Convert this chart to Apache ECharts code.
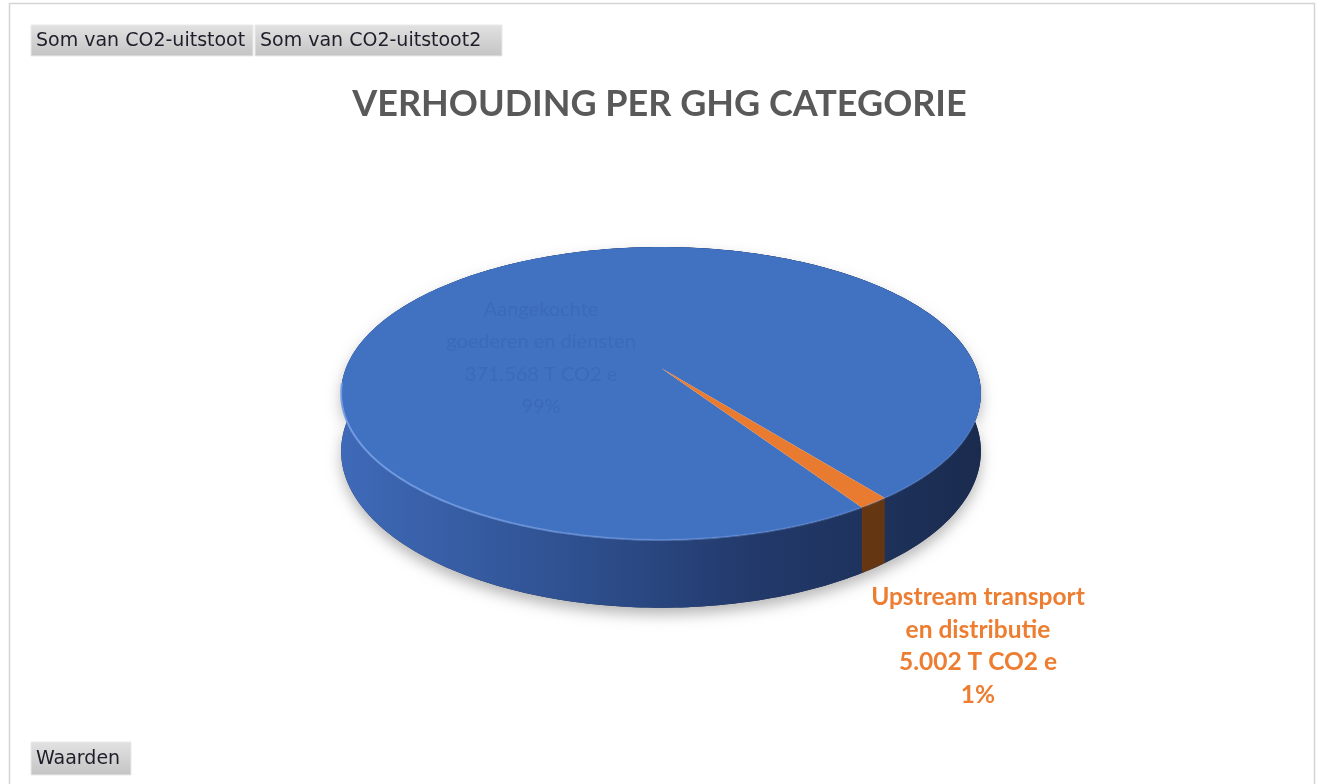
<!DOCTYPE html>
<html lang="nl">
<head>
<meta charset="utf-8">
<title>Verhouding per GHG categorie</title>
<script src="https://cdn.jsdelivr.net/npm/echarts@6/dist/echarts.min.js"></script>
<style>
  html, body { margin: 0; padding: 0; background: #fff; }
  #chart { width: 1319px; height: 784px; }
</style>
</head>
<body>
<div id="chart"></div>
<script>
// categorieën (met regelafbreking zoals in Excel) en waarden in T CO2 e
const categories = ['Aangekochte\ngoederen en diensten', 'Upstream transport\nen distributie'];
const co2Values = [371568, 5002];
const fieldButtons = ['Som van CO2-uitstoot', 'Som van CO2-uitstoot2'];
const valuesButton = 'Waarden';

// stijl per segment
const sliceColors = ['#4171c1', '#e97b30'];
const labelColors = ['#3c6ab9', '#ed7d31'];
const labelWeights = ['normal', 'bold'];
const labelSizes = [20, 24.5];
const labelAnchors = [[541, 358], [978, 646]];
const wallStops = [
  [{ offset: 0, color: '#3f6ab8' }, { offset: 0.35, color: '#2f5191' }, { offset: 0.65, color: '#22396a' }, { offset: 1, color: '#1a2b4e' }],
  [{ offset: 0, color: '#8a4a18' }, { offset: 1, color: '#5e3211' }]
];

// 3D-taart geometrie (eenvoudige perspectief-projectie)
const CX = 661, CY = 368;   // middelpunt van het bovenvlak
const A = 315, B = 142;     // halve assen
const K = 0.174;            // perspectief
const H = 56;               // dikte
const FIRST_ANGLE = 147;    // hoek van eerste segment (graden, met de klok mee vanaf 12 uur)

const total = co2Values.reduce((a, b) => a + b, 0);
const starts = [];
const ends = [];
let acc = 0;
co2Values.forEach(v => {
  starts.push(FIRST_ANGLE + acc / total * 360);
  acc += v;
  ends.push(FIRST_ANGLE + acc / total * 360);
});

const fmt = v => String(v).replace(/\B(?=(\d{3})+(?!\d))/g, '.');

// punt op de schijf: t in graden, r 0..1, dropped = onderkant
const proj = (t, r, dropped) => {
  const rad = t * Math.PI / 180;
  const X = r * Math.sin(rad);
  const Z = -r * Math.cos(rad);
  const w = 1 - K * Z;
  return [CX + A * X / w, CY + (B * Z + (dropped ? H : 0)) / w];
};

const arc = (s, e, dropped) => {
  const pts = [];
  const n = Math.max(2, Math.ceil(e - s));
  for (let j = 0; j <= n; j++) pts.push(proj(s + (e - s) * j / n, 1, dropped));
  return pts;
};

// stukken van de rand die aan de voorkant liggen (voor de lichte rand)
const frontSegments = (s, e) => {
  const segs = [];
  let cur = [];
  for (let t = s; t <= e + 1e-6; t += 1) {
    const m = ((t % 360) + 360) % 360;
    if (m > 95 && m < 265) {
      cur.push(proj(t, 1, false));
    } else if (cur.length) {
      segs.push(cur);
      cur = [];
    }
  }
  if (cur.length) segs.push(cur);
  return segs.filter(sg => sg.length > 1);
};

const renderItem = (params, api) => {
  const i = params.dataIndex;
  const s = starts[i];
  const e = ends[i];
  const top = arc(s, e, false);
  const bottom = arc(s, e, true).reverse();
  const children = [];

  // schaduw onder de hele taart (eenmaal)
  if (i === 0) {
    children.push({
      type: 'polygon',
      z2: 0,
      shape: { points: arc(0, 360, false).concat(arc(0, 360, true).reverse()) },
      style: {
        fill: '#1a2b4e',
        shadowBlur: 14,
        shadowOffsetY: 7,
        shadowColor: 'rgba(0,0,0,0.28)'
      }
    });
  }

  // zijwand
  children.push({
    type: 'polygon',
    z2: 1,
    shape: { points: top.concat(bottom) },
    style: {
      fill: { type: 'linear', x: CX - 320, y: 0, x2: CX + 320, y2: 0, global: true, colorStops: wallStops[i] }
    }
  });

  // bovenvlak
  children.push({
    type: 'polygon',
    z2: 2,
    shape: { points: [proj(0, 0, false)].concat(top) },
    style: { fill: sliceColors[i] }
  });

  // lichte rand aan de voorkant
  frontSegments(s, e).forEach(seg => {
    children.push({
      type: 'polyline',
      z2: 3,
      shape: { points: seg },
      style: {
        stroke: { type: 'linear', x: CX - 320, y: 0, x2: CX + 320, y2: 0, global: true,
          colorStops: [{ offset: 0, color: 'rgba(120,160,230,0.9)' }, { offset: 1, color: 'rgba(120,160,230,0.1)' }] },
        lineWidth: 2,
        fill: null
      }
    });
  });

  // label
  const pct = Math.round(co2Values[i] / total * 100);
  children.push({
    type: 'text',
    z2: 4,
    style: {
      text: categories[i] + '\n' + fmt(co2Values[i]) + ' T CO2 e\n' + pct + '%',
      x: labelAnchors[i][0],
      y: labelAnchors[i][1],
      align: 'center',
      verticalAlign: 'middle',
      fill: labelColors[i],
      fontFamily: 'Lato',
      fontWeight: labelWeights[i],
      fontSize: labelSizes[i],
      lineHeight: 32.5
    }
  });

  return { type: 'group', children };
};

// knoppen van de draaitabel
const button = (x, y, w, h, text) => ({
  type: 'group',
  children: [
    {
      type: 'rect',
      shape: { x: x, y: y, width: w, height: h },
      style: {
        fill: { type: 'linear', x: 0, y: 0, x2: 0, y2: 1, colorStops: [{ offset: 0, color: '#e2e2e2' }, { offset: 1, color: '#c4c4c4' }] },
        stroke: '#e9e9e9',
        lineWidth: 1
      }
    },
    {
      type: 'text',
      style: {
        text: text,
        x: x + 5,
        y: y + h / 2 + 1,
        verticalAlign: 'middle',
        fill: '#1e1e2a',
        fontFamily: 'DejaVu Sans',
        fontSize: 19
      }
    }
  ]
});

const chart = echarts.init(document.getElementById('chart'), null, { renderer: 'canvas' });

const option = {
  backgroundColor: '#ffffff',
  animation: false,
  title: {
    text: 'VERHOUDING PER GHG CATEGORIE',
    left: 'center',
    top: 81,
    textStyle: { color: '#595959', fontFamily: 'Lato', fontWeight: 'bold', fontSize: 36 }
  },
  graphic: [
    {
      type: 'rect',
      shape: { x: 9.5, y: 3.5, width: 1305, height: 800 },
      style: { fill: null, stroke: '#d4d4d4', lineWidth: 1.5 }
    },
    button(31, 25, 222, 31, fieldButtons[0]),
    button(255, 25, 247, 31, fieldButtons[1]),
    button(31, 742, 100, 33, valuesButton)
  ],
  series: [
    {
      type: 'custom',
      coordinateSystem: 'none',
      renderItem: renderItem,
      data: co2Values.map((v, i) => ({ name: categories[i], value: v }))
    }
  ]
};

chart.setOption(option);
</script>
</body>
</html>
